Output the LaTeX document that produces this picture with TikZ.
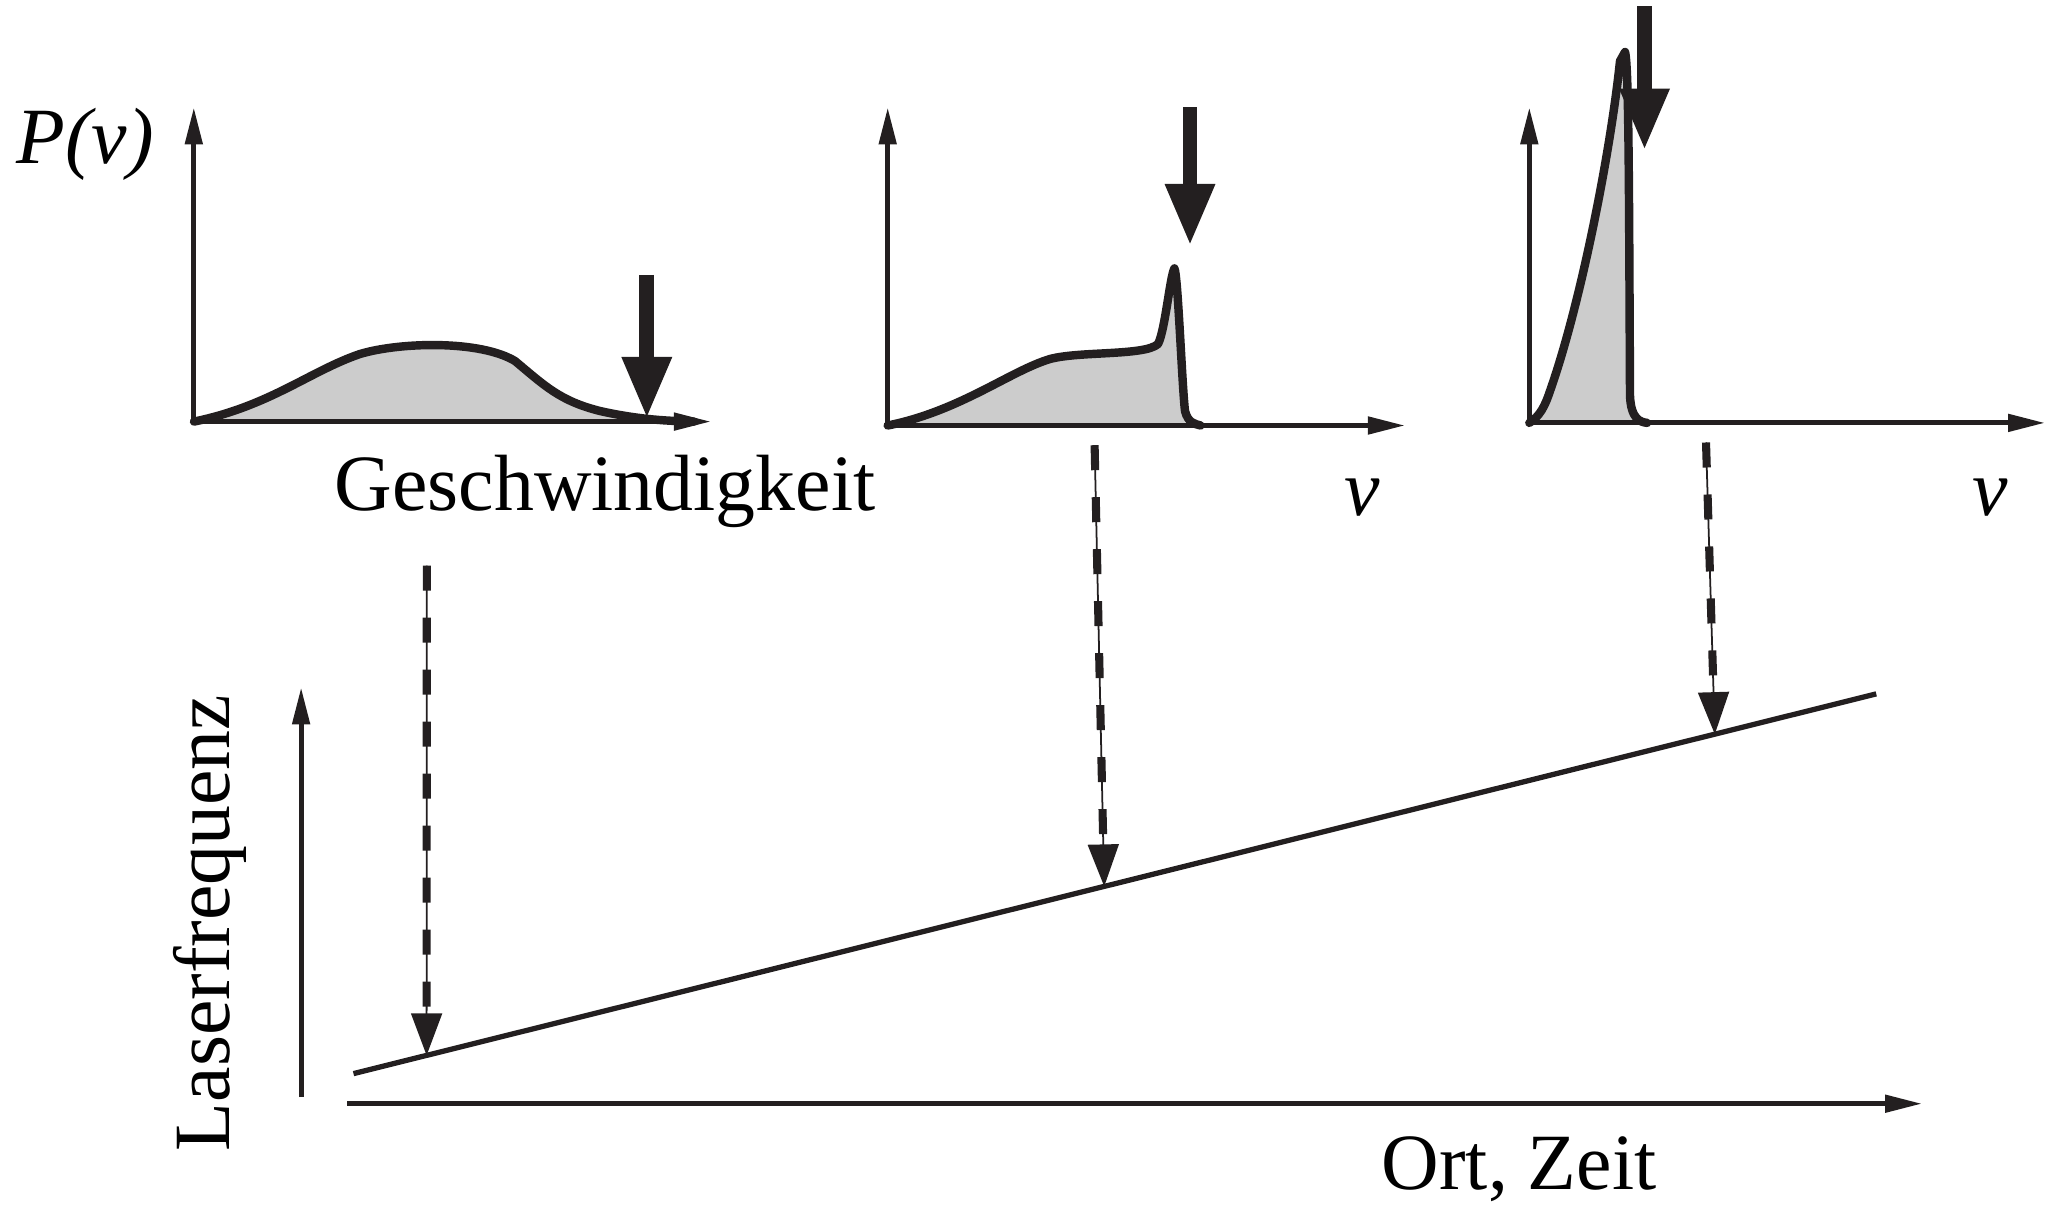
\documentclass[tikz,border=0pt]{standalone}
\usepackage{fontspec}
\setmainfont{Liberation Serif}
\usepackage{tikz}
\usetikzlibrary{arrows.meta}
\definecolor{ink}{RGB}{35,31,32}
\definecolor{distgray}{RGB}{204,204,204}

\begin{document}
\begin{tikzpicture}[>=Stealth,
  axis/.style={ink,line width=1.4pt,-{Triangle[length=0.37cm,width=0.17cm]}},
  distr/.style={ink,line width=2.4pt,line join=round,line cap=round},
  laser/.style={ink,line width=4.2pt,-{Triangle[length=0.62cm,width=0.46cm]}},
  guide/.style={ink,line width=0.5pt,-{Triangle[length=0.42cm,width=0.31cm]}},
  guidedash/.style={ink,line width=2.3pt,dash pattern=on 0.25cm off 0.27cm,shorten >=0.40cm},
  lbl/.style={font=\fontsize{22.7}{27}\selectfont,inner sep=0pt}]
\useasboundingbox (0,0) rectangle (20.53,12.06);

% first panel: broad distribution
\fill[distgray] (1.94,7.844) .. controls (2.7,8.0) and (3.1,8.35) .. (3.6,8.52)
  .. controls (4.0,8.64) and (4.8,8.66) .. (5.15,8.45)
  .. controls (5.45,8.2) and (5.6,8.05) .. (6.0,7.95)
  .. controls (6.4,7.86) and (6.7,7.85) .. (6.94,7.844) -- cycle;
\draw[distr] (1.94,7.844) .. controls (2.7,8.0) and (3.1,8.35) .. (3.6,8.52)
  .. controls (4.0,8.64) and (4.8,8.66) .. (5.15,8.45)
  .. controls (5.45,8.2) and (5.6,8.05) .. (6.0,7.95)
  .. controls (6.4,7.86) and (6.7,7.85) .. (6.94,7.844);
\draw[axis] (1.938,7.844)--(1.938,10.986);
\draw[axis] (1.938,7.844)--(7.109,7.844);
\draw[laser] (6.468,9.31)--(6.468,7.87);
\node[lbl] (pv) at (0.85,10.62) {\textit{P(v)}};
\node[lbl] (geschw) at (6.05,7.15) {Geschwindigkeit};

% second panel: partly cooled
\fill[distgray] (8.877,7.805) .. controls (9.6,7.95) and (10.1,8.35) .. (10.5,8.47)
  .. controls (10.8,8.55) and (11.45,8.5) .. (11.58,8.62)
  .. controls (11.65,8.75) and (11.7,9.3) .. (11.744,9.376)
  .. controls (11.78,9.3) and (11.82,8.2) .. (11.85,7.95)
  .. controls (11.88,7.83) and (11.95,7.82) .. (12.006,7.805) -- cycle;
\draw[distr] (8.877,7.805) .. controls (9.6,7.95) and (10.1,8.35) .. (10.5,8.47)
  .. controls (10.8,8.55) and (11.45,8.5) .. (11.58,8.62)
  .. controls (11.65,8.75) and (11.7,9.3) .. (11.744,9.376)
  .. controls (11.78,9.3) and (11.82,8.2) .. (11.85,7.95)
  .. controls (11.88,7.83) and (11.95,7.82) .. (12.006,7.805);
\draw[axis] (8.877,7.805)--(8.877,10.986);
\draw[axis] (8.877,7.805)--(14.049,7.805);
\draw[laser] (11.90,10.986)--(11.90,9.60);
\node[lbl] (v2) at (13.62,7.085) {\textit{v}};

% third panel: cooled
\fill[distgray] (15.293,7.831) .. controls (15.4,7.9) and (15.45,8.0) .. (15.5,8.15)
  .. controls (15.8,9.0) and (16.1,10.5) .. (16.2,11.45) -- (16.25,11.54)
  .. controls (16.29,11.4) and (16.29,10) .. (16.3,8.1)
  .. controls (16.31,7.87) and (16.4,7.84) .. (16.471,7.831) -- cycle;
\draw[distr] (15.293,7.831) .. controls (15.4,7.9) and (15.45,8.0) .. (15.5,8.15)
  .. controls (15.8,9.0) and (16.1,10.5) .. (16.2,11.45) -- (16.25,11.54)
  .. controls (16.29,11.4) and (16.29,10) .. (16.3,8.1)
  .. controls (16.31,7.87) and (16.4,7.84) .. (16.471,7.831);
\draw[axis] (15.293,7.831)--(15.293,10.986);
\draw[axis] (15.293,7.831)--(20.45,7.831);
\draw[laser] (16.445,11.995)--(16.445,10.554);
\node[lbl] (v3) at (19.90,7.085) {\textit{v}};

% laser frequency sweep
\draw[axis] (3.011,1.088)--(3.011,5.186);
\draw[axis] (3.47,1.023)--(19.22,1.023);
\draw[ink,line width=1.5pt] (3.535,1.324) -- coordinate[pos=0.048] (hit1)
  coordinate[pos=0.493] (hit2) coordinate[pos=0.894] (hit3) (18.762,5.121);
\node[lbl,rotate=90] (laser) at (2.095,2.83) {Laserfrequenz};
\node[lbl] (ort) at (15.19,0.368) {Ort, Zeit};

% dashed guides
\coordinate (top1) at (4.268,6.404);
\coordinate (top2) at (10.946,7.608);
\coordinate (top3) at (17.06,7.635);
\foreach \i in {1,2,3}{
  \draw[guide] (top\i)--(hit\i);
  \draw[guidedash] (top\i)--(hit\i);
}
\end{tikzpicture}
\end{document}
